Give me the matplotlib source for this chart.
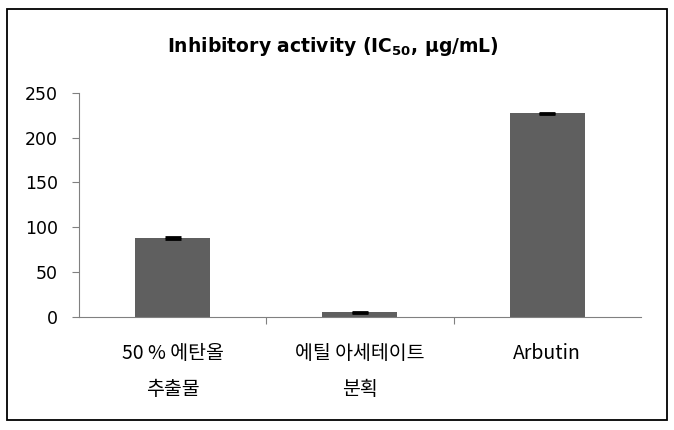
import matplotlib
matplotlib.use('Agg')
import matplotlib.pyplot as plt
from matplotlib.patches import Rectangle

plt.rcParams['font.family'] = ['DejaVu Sans', 'Noto Sans CJK KR']

# Data
categories = ['50 % 에탄올\n추출물', '에틸 아세테이트\n분획', 'Arbutin']
ic50 = [88, 5, 227]
errors = [1.0, 1.0, 1.0]

fig = plt.figure(figsize=(6.74, 4.30), dpi=100)
ax = fig.add_axes([0.117, 0.263, 0.834, 0.521])

x = list(range(len(categories)))
ax.bar(x, ic50, width=0.4, color='#5f5f5f', zorder=2)
ax.errorbar(x, ic50, yerr=errors, fmt='none', ecolor='black',
            elinewidth=2, capsize=6, capthick=2, zorder=3)

ax.set_xlim(-0.5, len(categories) - 0.5)
ax.set_ylim(0, 250)
ax.set_yticks([0, 50, 100, 150, 200, 250])
ax.tick_params(axis='y', labelsize=12.5, length=5, color='#808080', pad=10)

# category labels under the bars, ticks between categories
ax.set_xticks([0.5, 1.5])
ax.set_xticklabels([])
ax.tick_params(axis='x', length=5, color='#808080', direction='out')
for xi, label in zip(x, categories):
    ax.text(xi, -29, label, ha='center', va='top', fontsize=14,
            linespacing=1.95, family=['Noto Sans CJK KR', 'DejaVu Sans'],
            transform=ax.transData)

for side in ['top', 'right']:
    ax.spines[side].set_visible(False)
ax.spines['left'].set_color('#808080')
ax.spines['bottom'].set_color('#808080')

fig.text(0.494, 0.893, r'Inhibitory activity (IC$_{\mathregular{50}}$, μg/mL)',
         ha='center', va='center', fontsize=13.5, fontweight='bold')

# outer frame
fig.patches.append(Rectangle((7 / 674, 10 / 430), 660 / 674, 411 / 430,
                             transform=fig.transFigure, fill=False,
                             edgecolor='black', linewidth=1.3))

fig.savefig('out.png', dpi=100)
